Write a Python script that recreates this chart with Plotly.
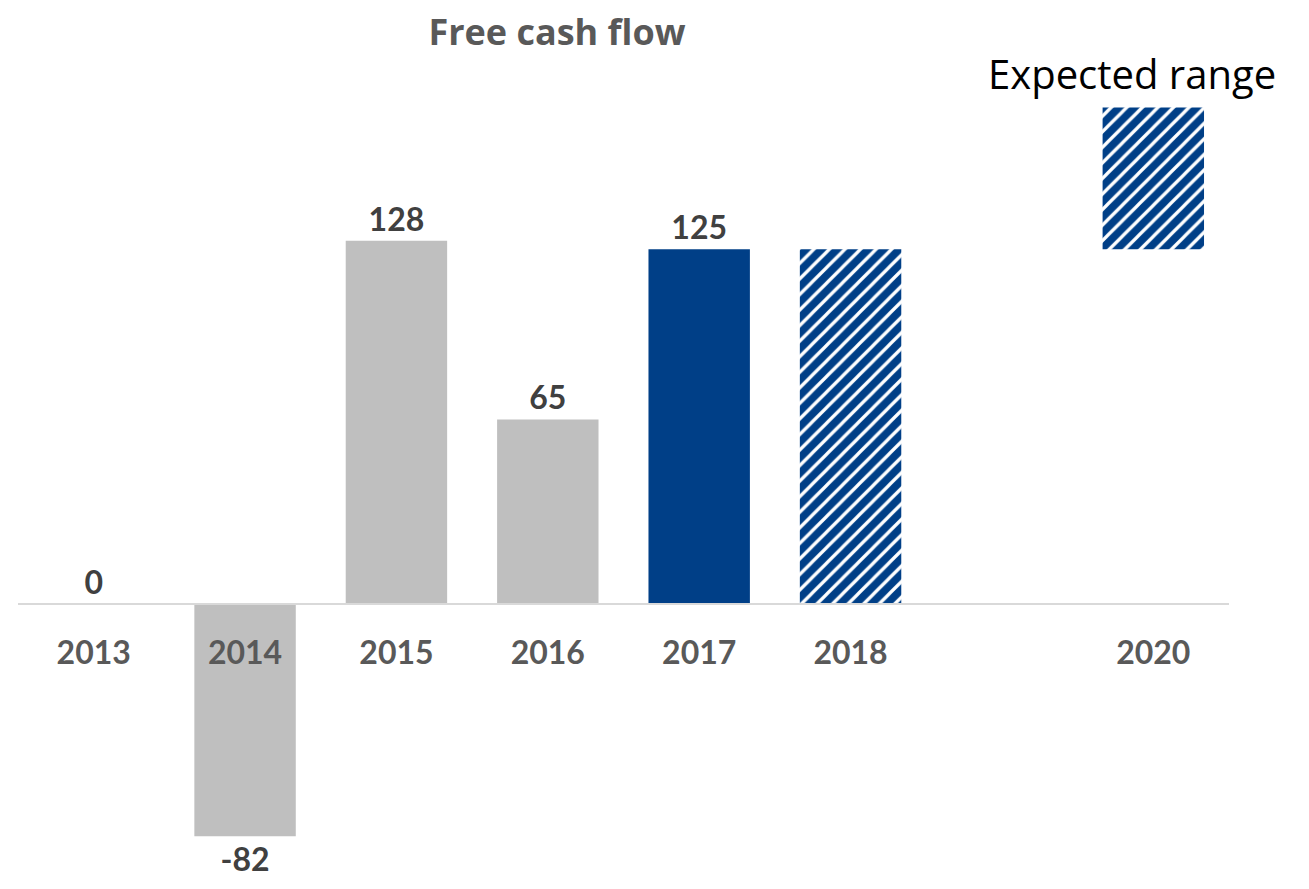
import plotly.graph_objects as go

# data
years = ["2013", "2014", "2015", "2016", "2017", "2018", "2019", "2020"]
year_labels = ["2013", "2014", "2015", "2016", "2017", "2018", "", "2020"]

actual_years = ["2013", "2014", "2015", "2016"]
actual_fcf = [0, -82, 128, 65]

latest_year = ["2017"]
latest_fcf = [125]

outlook_year = ["2018"]
outlook_fcf = [125]

target_year = ["2020"]
target_low = [125]
target_high = [175]

GREY = "#BFBFBF"
BLUE = "#003F87"
y_min, y_max = -95, 190

fig = go.Figure()
fig.add_trace(go.Bar(x=actual_years, y=actual_fcf, marker_color=GREY,
                     text=[str(v) for v in actual_fcf], textposition="outside",
                     cliponaxis=False))
fig.add_trace(go.Bar(x=latest_year, y=latest_fcf, marker_color=BLUE,
                     text=[str(v) for v in latest_fcf], textposition="outside",
                     cliponaxis=False))
hatch = dict(shape="/", fgcolor="white", bgcolor=BLUE, size=11, solidity=0.3, fillmode="replace")
fig.add_trace(go.Bar(x=outlook_year, y=outlook_fcf, marker=dict(color=BLUE, pattern=hatch)))
fig.add_trace(go.Bar(x=target_year, y=[h - l for h, l in zip(target_high, target_low)], base=target_low,
                     marker=dict(color=BLUE, pattern=hatch)))

# annotation on a category axis: use the category index
fig.add_annotation(x=years.index(target_year[0]), y=target_high[0], text="Expected range", showarrow=False,
                   yanchor="bottom", xshift=-21, yshift=5,
                   font=dict(family="Open Sans", size=40, color="black"))

fig.update_traces(textfont=dict(family="Lato", size=32, color="#404040", weight="bold"),
                  marker_line_width=0)

fig.update_layout(
    width=1309, height=889,
    barmode="overlay", bargap=0.33,
    showlegend=False,
    plot_bgcolor="white", paper_bgcolor="white",
    margin=dict(l=10, r=88, t=57, b=24),
    title=dict(text="<b>Free cash flow</b>", x=549 / 1309, xanchor="center", xref="container",
               y=1 - 24 / 889, yanchor="middle", yref="container",
               font=dict(family="Open Sans", size=36, color="#595959")),
    xaxis=dict(type="category", categoryorder="array", categoryarray=years,
               tickvals=years, ticktext=year_labels, range=[-0.5, len(years) - 0.5],
               anchor="free", position=(0 - y_min) / (y_max - y_min),
               showline=True, linecolor="#D9D9D9", linewidth=2, showgrid=False,
               ticks="outside", ticklen=21, tickcolor="rgba(0,0,0,0)",
               tickfont=dict(family="Lato", size=32, color="#595959", weight="bold")),
    yaxis=dict(range=[y_min, y_max], visible=False, showgrid=False, zeroline=False),
)

fig.write_html("out.html")
